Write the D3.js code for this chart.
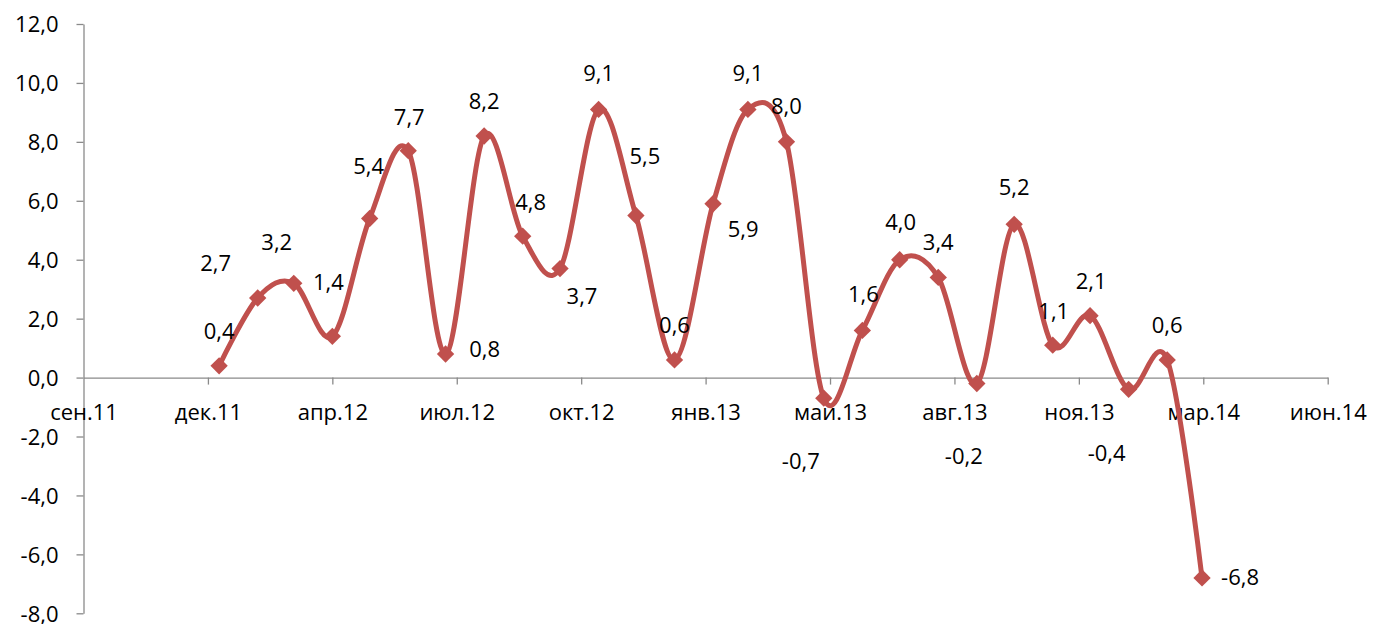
<!DOCTYPE html>
<html lang="ru">
<head>
  <meta charset="UTF-8">
  <script src="https://d3js.org/d3.v7.min.js"></script>
  <style>
    body { margin: 0; background: #fff; }
    text { font-family: "Open Sans", sans-serif; font-size: 22px; fill: #000; }
    .axis path, .axis line { stroke: #8a8a8a; stroke-width: 1.3; }
  </style>
  <title>Line chart</title>
</head>
<body>
  <div id="chart"></div>
  <script>
    // monthly values, Dec 2011 .. Feb 2014 (month-end dates)
    var months = ["2011-12", "2012-01", "2012-02", "2012-03", "2012-04", "2012-05", "2012-06",
                  "2012-07", "2012-08", "2012-09", "2012-10", "2012-11", "2012-12", "2013-01",
                  "2013-02", "2013-03", "2013-04", "2013-05", "2013-06", "2013-07", "2013-08",
                  "2013-09", "2013-10", "2013-11", "2013-12", "2014-01", "2014-02"];
    var values = [0.4, 2.7, 3.2, 1.4, 5.4, 7.7, 0.8, 8.2, 4.8, 3.7, 9.1, 5.5, 0.6, 5.9,
                  9.1, 8.0, -0.7, 1.6, 4.0, 3.4, -0.2, 5.2, 1.1, 2.1, -0.4, 0.6, -6.8];

    // date axis: 100-day major unit
    var tickLabels = ["сен.11", "дек.11", "апр.12", "июл.12", "окт.12", "янв.13",
                      "май.13", "авг.13", "ноя.13", "мар.14", "июн.14"];
    var yTicks = [-8, -6, -4, -2, 0, 2, 4, 6, 8, 10, 12];

    // where each data label sits relative to its marker (moved by hand in the original)
    var labelShift = [[0,-35], [-42,-35], [-17,-41], [-4,-54], [-1,-52], [1,-34], [39,-5],
                      [0,-35], [8,-34], [22,28], [0,-36], [9,-59], [0,-35], [30,25],
                      [0,-36], [0,-36], [-23,63], [1,-36], [1,-38], [0,-35], [-13,73],
                      [0,-37], [1,-34], [1,-35], [-22,64], [0,-35], [38,-1]];

    var width = 1373, height = 624;
    var plotLeft = 83.5, plotRight = 1327.7, plotTop = 24, plotBottom = 613.3;
    var color = "#C0504D";

    var ru = d3.formatLocale({decimal: ",", thousands: " ", grouping: [3], currency: ["", ""], minus: "-"});
    var fmt = ru.format(".1f");

    var data = months.map(function(m, i) {
      var p = m.split("-");
      // last day of the month
      return { date: new Date(+p[0], +p[1], 0), value: values[i] };
    });

    var start = new Date(2011, 8, 13);
    var end = d3.timeDay.offset(start, 1000);
    var tickDates = tickLabels.map(function(d, i) { return d3.timeDay.offset(start, i * 100); });

    var svg = d3.select("#chart").append("svg")
      .attr("width", width)
      .attr("height", height);

    var x = d3.scaleTime().domain([start, end]).range([plotLeft, plotRight]);
    var y = d3.scaleLinear().domain([-8, 12]).range([plotBottom, plotTop]);

    // y axis
    var yAxis = svg.append("g")
      .attr("class", "axis")
      .attr("transform", "translate(" + plotLeft + ",0)")
      .call(d3.axisLeft(y).tickValues(yTicks).tickSize(7).tickSizeOuter(0).tickPadding(18)
        .tickFormat(fmt));
    yAxis.selectAll("text").attr("dy", "0.36em");

    // x axis on zero line
    var xAxis = svg.append("g")
      .attr("class", "axis")
      .attr("transform", "translate(0," + y(0) + ")")
      .call(d3.axisBottom(x).tickValues(tickDates).tickSize(7).tickSizeOuter(0).tickPadding(20)
        .tickFormat(function(d, i) { return tickLabels[i]; }));
    xAxis.selectAll("text").attr("dy", "0.71em");
    xAxis.selectAll(".tick line").filter(function(d, i) { return i === 0; }).remove();

    svg.selectAll(".axis text").style("font-family", "'Open Sans', sans-serif").style("font-size", "22px").attr("fill", "#000");

    // smoothed line
    var line = d3.line()
      .x(function(d) { return x(d.date); })
      .y(function(d) { return y(d.value); })
      .curve(d3.curveCardinal.tension(0));

    svg.append("path")
      .datum(data)
      .attr("fill", "none")
      .attr("stroke", color)
      .attr("stroke-width", 5)
      .attr("stroke-linejoin", "round")
      .attr("d", line);

    // diamond markers
    var diamond = d3.symbol().type(d3.symbolSquare).size(150);
    svg.selectAll(".marker")
      .data(data)
      .enter().append("path")
      .attr("class", "marker")
      .attr("d", diamond)
      .attr("fill", color)
      .attr("transform", function(d) {
        return "translate(" + x(d.date) + "," + y(d.value) + ") rotate(45)";
      });

    // data labels
    svg.selectAll(".lbl")
      .data(data)
      .enter().append("text")
      .attr("class", "lbl")
      .attr("text-anchor", "middle")
      .attr("x", function(d, i) { return x(d.date) + labelShift[i][0]; })
      .attr("y", function(d, i) { return y(d.value) + labelShift[i][1]; })
      .attr("dy", "0.36em")
      .text(function(d) { return fmt(d.value); });
  </script>
</body>
</html>
